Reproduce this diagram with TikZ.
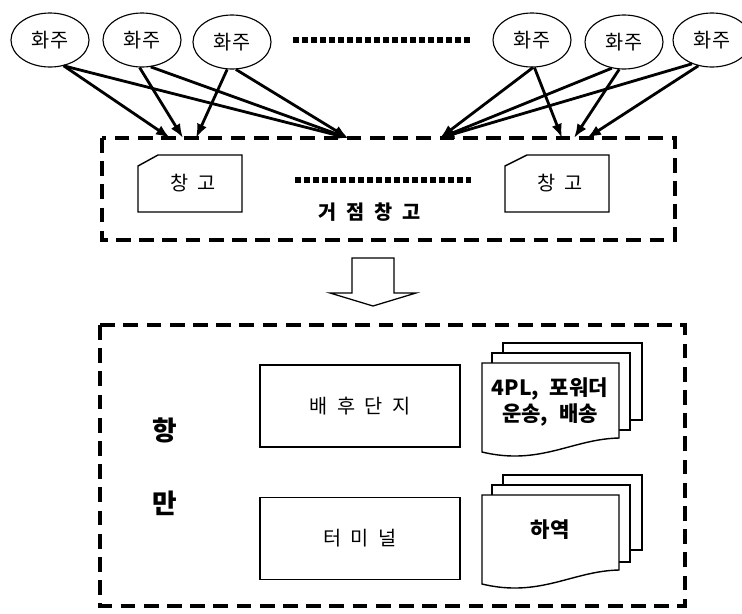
\documentclass[tikz,border=0pt]{standalone}
\usepackage{fontspec}
\setmainfont{Noto Sans CJK KR}[WordSpace=2.2]
\usetikzlibrary{shapes.geometric,arrows.meta}

\begin{document}
\begin{tikzpicture}[x=0.025cm,y=-0.025cm,
    every node/.style={font=\fontsize{14pt}{17pt}\selectfont},
    owner/.style={ellipse,draw,line width=0.8pt,minimum width=1.95cm,minimum height=1.35cm,inner sep=0pt},
    feed/.style={line width=2pt,-{Latex[length=10pt,width=7.5pt]}},
    dashbox/.style={line width=2.5pt,dash pattern=on 10.5pt off 6pt},
    dots/.style={line width=3.8pt,dash pattern=on 4.6pt off 1.8pt},
    plainbox/.style={draw,line width=1pt,minimum width=5cm,minimum height=2.05cm},
    page/.style={draw,fill=white,line width=1pt},
    heavy/.style={font=\fontsize{14pt}{17.5pt}\selectfont\bfseries}]

    \useasboundingbox (0,0) rectangle (742,613);

    \node[owner] (H1) at (50,40) {화주};
    \node[owner] (H2) at (142,40) {화주};
    \node[owner] (H3) at (232,42) {화주};
    \node[owner] (H4) at (532,40) {화주};
    \node[owner] (H5) at (624,42) {화주};
    \node[owner] (H6) at (712,40) {화주};

    \coordinate (D1) at (293,40);
    \coordinate (D2) at (471,40);
    \draw[dots] (D1) -- (D2);

    % 거점창고
    \draw[dashbox] (102,138) rectangle (675,240);

    \coordinate (L1) at (170,138);
    \coordinate (L2) at (183,138);
    \coordinate (L3) at (196,138);
    \coordinate (M) at (348,138);
    \coordinate (N) at (440,138);
    \coordinate (R1) at (562,138);
    \coordinate (R2) at (574,138);
    \coordinate (R3) at (587,138);

    \draw[feed] (H1.-62) -- (L1);
    \draw[feed] (H1.-62) -- (M);
    \draw[feed] (H2.-95) -- (L2);
    \draw[feed] (H2.-72) -- (M);
    \draw[feed] (H3.-100) -- (L3);
    \draw[feed] (H3.-82) -- (M);
    \draw[feed] (H4.-88) -- (N);
    \draw[feed] (H4.-85) -- (R1);
    \draw[feed] (H5.-115) -- (N);
    \draw[feed] (H5.-100) -- (R2);
    \draw[feed] (H6.-130) -- (N);
    \draw[feed] (H6.-118) -- (R3);

    \draw[line width=1pt] (138,166) -- (158,155) -- (242,155) -- (242,212) -- (138,212) -- cycle;
    \node (W1) at (193,183) {창 고};
    \draw[line width=1pt] (505,166) -- (527,155) -- (609,155) -- (609,212) -- (505,212) -- cycle;
    \node (W2) at (560,183) {창 고};

    \coordinate (D3) at (295,180);
    \coordinate (D4) at (471,180);
    \draw[dots] (D3) -- (D4);

    \node[heavy] (T) at (370,212) {거 점 창 고};

    % block arrow
    \draw[line width=0.9pt] (352,258) -- (394,258) -- (394,293) -- (416,293)
        -- (373,306) -- (330,293) -- (352,293) -- cycle;

    % 항만
    \draw[dashbox] (100,325) rectangle (685,606);

    \node[font=\fontsize{19pt}{22pt}\selectfont\bfseries] (P1) at (165,430) {항};
    \node[font=\fontsize{19pt}{22pt}\selectfont\bfseries] (P2) at (165,503) {만};

    \node[plainbox] (B) at (360,406) {배 후 단 지};
    \node[plainbox] (C) at (360,538.5) {터 미 널};

    \draw[page] (503,343) rectangle (642,420);
    \draw[page] (492,353) rectangle (630,430);
    \draw[page] (482,363) -- (619,363) -- (619,438)
        .. controls (572,439) and (540,466) .. (482,452) -- cycle;
    \node[heavy,align=center,font=\fontsize{15pt}{18pt}\selectfont\bfseries] (F) at (550,402) {4PL, 포워더\\운송, 배송};

    \draw[page] (503,475) rectangle (642,550);
    \draw[page] (492,485) rectangle (630,562);
    \draw[page] (482,495) -- (619,495) -- (619,570)
        .. controls (572,571) and (540,598) .. (482,584) -- cycle;
    \node[heavy,font=\fontsize{15pt}{18pt}\selectfont\bfseries] (G) at (550,530) {하역};

\end{tikzpicture}
\end{document}
